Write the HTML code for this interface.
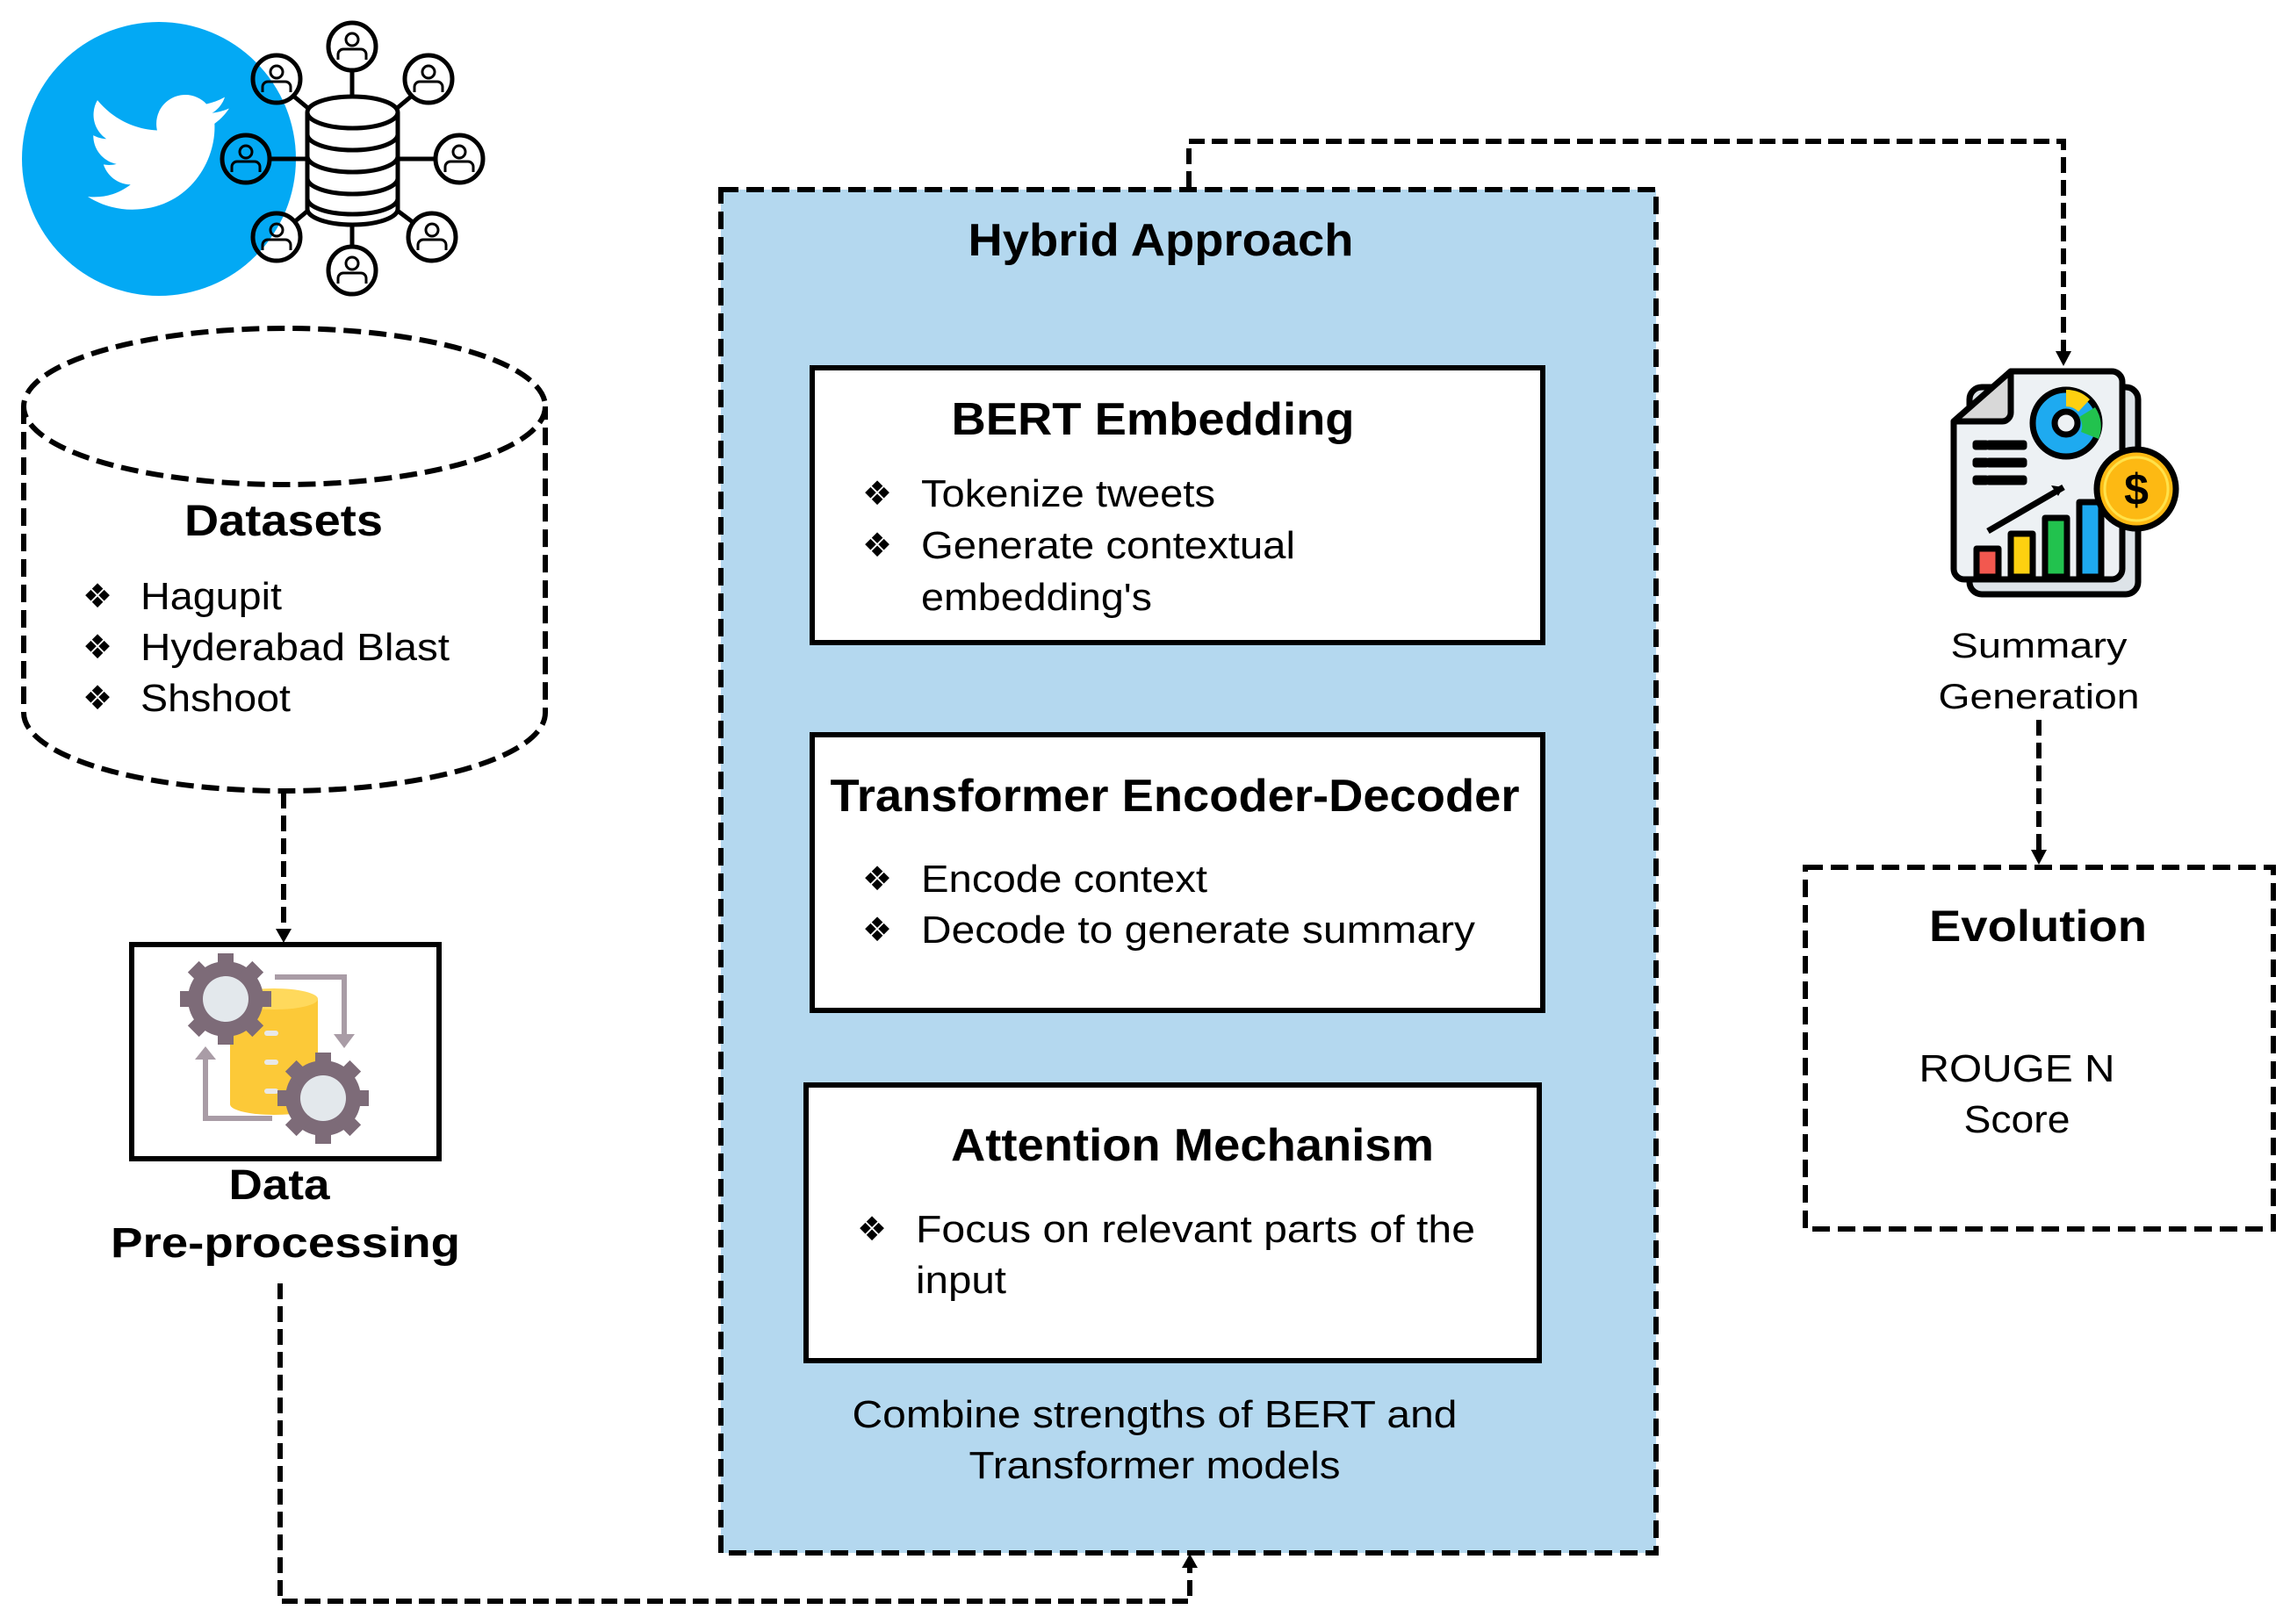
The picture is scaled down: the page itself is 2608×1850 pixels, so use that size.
<!DOCTYPE html>
<html><head><meta charset="utf-8"><style>
html,body{margin:0;padding:0;background:#fff}
svg{display:block}
text{font-family:"Liberation Sans",Arial,sans-serif;fill:#000}
.b{font-weight:bold}
.bl{font-family:"DejaVu Sans",sans-serif;font-size:38px}
</style></head><body>
<svg width="2608" height="1850" viewBox="0 0 2608 1850" xmlns="http://www.w3.org/2000/svg">

<!-- Twitter -->
<circle cx="181" cy="181" r="156" fill="#03a9f4"/>
<path transform="translate(100,93) scale(6.7)" fill="#fff" d="M23.954 4.569c-.885.389-1.83.654-2.825.775 1.014-.611 1.794-1.574 2.163-2.723-.951.555-2.005.959-3.127 1.184-.896-.959-2.173-1.559-3.591-1.559-2.717 0-4.92 2.203-4.92 4.917 0 .39.045.765.127 1.124C7.691 8.094 4.066 6.13 1.64 3.161c-.427.722-.666 1.561-.666 2.475 0 1.71.87 3.213 2.188 4.096-.807-.026-1.566-.248-2.228-.616v.061c0 2.385 1.693 4.374 3.946 4.827-.413.111-.849.171-1.296.171-.314 0-.615-.03-.916-.086.631 1.953 2.445 3.377 4.604 3.417-1.68 1.319-3.809 2.105-6.102 2.105-.39 0-.779-.023-1.17-.067 2.189 1.394 4.768 2.209 7.557 2.209 9.054 0 13.999-7.496 13.999-13.986 0-.209 0-.42-.015-.63.961-.689 1.8-1.560 2.460-2.548l-.047-.02z"/>

<!-- Network icon -->
<g stroke="#000" stroke-width="5" fill="none">
<line x1="401" y1="81" x2="401" y2="113"/><line x1="401" y1="253" x2="401" y2="283"/>
<line x1="308" y1="181" x2="350" y2="181"/><line x1="453" y1="181" x2="495" y2="181"/>
<line x1="335" y1="110" x2="353" y2="125"/><line x1="468" y1="110" x2="450" y2="125"/>
<line x1="335" y1="253" x2="353" y2="238"/><line x1="470" y1="253" x2="450" y2="238"/>
<path d="M350,128 v110 a51.5,18 0 0 0 103,0 v-110" fill="#fff"/>
<ellipse cx="401.5" cy="128" rx="51.5" ry="18" fill="#fff"/>
<path d="M350,153 a51.5,18 0 0 0 103,0 M350,178 a51.5,18 0 0 0 103,0 M350,203 a51.5,18 0 0 0 103,0 M350,226 a51.5,18 0 0 0 103,0"/>
</g>
<g stroke="#000" fill="none">
<g transform="translate(401,53)"><circle r="27" stroke-width="5"/><circle cy="-8" r="7" stroke-width="3"/><path d="M-16,15 v-6 a6,6 0 0 1 6,-6 h20 a6,6 0 0 1 6,6 v6" stroke-width="3"/></g>
<g transform="translate(315,90)"><circle r="27" stroke-width="5"/><circle cy="-8" r="7" stroke-width="3"/><path d="M-16,15 v-6 a6,6 0 0 1 6,-6 h20 a6,6 0 0 1 6,6 v6" stroke-width="3"/></g>
<g transform="translate(488,90)"><circle r="27" stroke-width="5"/><circle cy="-8" r="7" stroke-width="3"/><path d="M-16,15 v-6 a6,6 0 0 1 6,-6 h20 a6,6 0 0 1 6,6 v6" stroke-width="3"/></g>
<g transform="translate(280,181)"><circle r="27" stroke-width="5"/><circle cy="-8" r="7" stroke-width="3"/><path d="M-16,15 v-6 a6,6 0 0 1 6,-6 h20 a6,6 0 0 1 6,6 v6" stroke-width="3"/></g>
<g transform="translate(523,181)"><circle r="27" stroke-width="5"/><circle cy="-8" r="7" stroke-width="3"/><path d="M-16,15 v-6 a6,6 0 0 1 6,-6 h20 a6,6 0 0 1 6,6 v6" stroke-width="3"/></g>
<g transform="translate(315,270)"><circle r="27" stroke-width="5"/><circle cy="-8" r="7" stroke-width="3"/><path d="M-16,15 v-6 a6,6 0 0 1 6,-6 h20 a6,6 0 0 1 6,6 v6" stroke-width="3"/></g>
<g transform="translate(492,270)"><circle r="27" stroke-width="5"/><circle cy="-8" r="7" stroke-width="3"/><path d="M-16,15 v-6 a6,6 0 0 1 6,-6 h20 a6,6 0 0 1 6,6 v6" stroke-width="3"/></g>
<g transform="translate(401,308)"><circle r="27" stroke-width="5"/><circle cy="-8" r="7" stroke-width="3"/><path d="M-16,15 v-6 a6,6 0 0 1 6,-6 h20 a6,6 0 0 1 6,6 v6" stroke-width="3"/></g>
</g>

<!-- Datasets cylinder -->
<g stroke="#000" stroke-width="6" stroke-dasharray="20 9" fill="none">
<ellipse cx="324" cy="463" rx="297" ry="89"/>
<path d="M27,463 V812 A297,89 0 0 0 621,812 V463"/>
</g>
<text class="b" x="323" y="610" font-size="50" text-anchor="middle" textLength="226" lengthAdjust="spacingAndGlyphs">Datasets</text>
<text class="bl" x="94" y="692">❖</text><text x="160" y="694" font-size="44" textLength="161" lengthAdjust="spacingAndGlyphs">Hagupit</text>
<text class="bl" x="94" y="750">❖</text><text x="160" y="752" font-size="44" textLength="352" lengthAdjust="spacingAndGlyphs">Hyderabad Blast</text>
<text class="bl" x="94" y="808">❖</text><text x="160" y="810" font-size="44" textLength="171" lengthAdjust="spacingAndGlyphs">Shshoot</text>

<!-- connector datasets -> preprocessing -->
<path d="M323,903 V1062" stroke="#000" stroke-width="6" stroke-dasharray="18 8" fill="none"/>
<path d="M314,1058 L332,1058 L323,1074 Z" fill="#000"/>

<!-- preprocessing box -->
<rect x="150" y="1076" width="350" height="244" fill="#fff" stroke="#000" stroke-width="6"/>
<path d="M313,1113 H392 V1178" stroke="#a99ca6" stroke-width="6" fill="none"/>
<path d="M380,1178 L404,1178 L392,1194 Z" fill="#a99ca6"/>
<path d="M310,1274 H234 V1205" stroke="#a99ca6" stroke-width="6" fill="none"/>
<path d="M222,1207 L246,1207 L234,1192 Z" fill="#a99ca6"/>
<rect x="262" y="1138" width="100" height="120" fill="#fcc938"/>
<ellipse cx="312" cy="1258" rx="50" ry="12" fill="#fcc938"/>
<ellipse cx="312" cy="1138" rx="50" ry="12" fill="#ffd95c"/>
<rect x="301" y="1174" width="16" height="6" rx="3" fill="#e8e8e8"/><rect x="301" y="1207" width="16" height="6" rx="3" fill="#e8e8e8"/><rect x="301" y="1240" width="16" height="6" rx="3" fill="#e8e8e8"/>
<g fill="#7d6b78">
<circle cx="257" cy="1138" r="43"/>
<g transform="translate(257,1138)"><rect x="-9" y="-52" width="18" height="104"/><rect x="-52" y="-9" width="104" height="18"/><rect x="-9" y="-52" width="18" height="104" transform="rotate(45)"/><rect x="-9" y="-52" width="18" height="104" transform="rotate(-45)"/></g>
<circle cx="368" cy="1251" r="43"/>
<g transform="translate(368,1251)"><rect x="-9" y="-52" width="18" height="104"/><rect x="-52" y="-9" width="104" height="18"/><rect x="-9" y="-52" width="18" height="104" transform="rotate(45)"/><rect x="-9" y="-52" width="18" height="104" transform="rotate(-45)"/></g>
</g>
<circle cx="257" cy="1138" r="26" fill="#e3e8ec"/><circle cx="368" cy="1251" r="26" fill="#e3e8ec"/>
<text class="b" x="318" y="1366" font-size="48" text-anchor="middle" textLength="115" lengthAdjust="spacingAndGlyphs">Data</text>
<text class="b" x="325" y="1432" font-size="48" text-anchor="middle" textLength="398" lengthAdjust="spacingAndGlyphs">Pre-processing</text>

<!-- connector preprocessing -> hybrid -->
<path d="M319,1462 V1824 H1355 V1785" stroke="#000" stroke-width="6" stroke-dasharray="18 8" fill="none"/>
<path d="M1346,1786 L1364,1786 L1355,1770 Z" fill="#000"/>

<!-- hybrid -->
<rect x="821" y="216" width="1065" height="1553" fill="#b4d8ef" stroke="#000" stroke-width="6" stroke-dasharray="20 9"/>
<text class="b" x="1322" y="291" font-size="52" text-anchor="middle" textLength="439" lengthAdjust="spacingAndGlyphs">Hybrid Approach</text>

<rect x="925" y="419" width="832" height="313" fill="#fff" stroke="#000" stroke-width="6"/>
<text class="b" x="1313" y="495" font-size="52" text-anchor="middle" textLength="459" lengthAdjust="spacingAndGlyphs">BERT Embedding</text>
<text class="bl" x="982" y="575">❖</text><text x="1049" y="577" font-size="44" textLength="335" lengthAdjust="spacingAndGlyphs">Tokenize tweets</text>
<text class="bl" x="982" y="634">❖</text><text x="1049" y="636" font-size="44" textLength="426" lengthAdjust="spacingAndGlyphs">Generate contextual</text>
<text x="1049" y="695" font-size="44" textLength="263" lengthAdjust="spacingAndGlyphs">embedding's</text>

<rect x="925" y="837" width="832" height="314" fill="#fff" stroke="#000" stroke-width="6"/>
<text class="b" x="1338" y="924" font-size="52" text-anchor="middle" textLength="785" lengthAdjust="spacingAndGlyphs">Transformer Encoder-Decoder</text>
<text class="bl" x="982" y="1014">❖</text><text x="1049" y="1016" font-size="44" textLength="326" lengthAdjust="spacingAndGlyphs">Encode context</text>
<text class="bl" x="982" y="1072">❖</text><text x="1049" y="1074" font-size="44" textLength="631" lengthAdjust="spacingAndGlyphs">Decode to generate summary</text>

<rect x="918" y="1236" width="835" height="314" fill="#fff" stroke="#000" stroke-width="6"/>
<text class="b" x="1358" y="1322" font-size="52" text-anchor="middle" textLength="550" lengthAdjust="spacingAndGlyphs">Attention Mechanism</text>
<text class="bl" x="976" y="1413">❖</text><text x="1043" y="1415" font-size="44" textLength="637" lengthAdjust="spacingAndGlyphs">Focus on relevant parts of the</text>
<text x="1043" y="1473" font-size="44" textLength="103" lengthAdjust="spacingAndGlyphs">input</text>

<text x="1315" y="1626" font-size="44" text-anchor="middle" textLength="689" lengthAdjust="spacingAndGlyphs">Combine strengths of BERT and</text>
<text x="1315" y="1684" font-size="44" text-anchor="middle" textLength="423" lengthAdjust="spacingAndGlyphs">Transformer models</text>

<!-- connector hybrid -> summary -->
<path d="M1354,213 V161 H2350 V400" stroke="#000" stroke-width="6" stroke-dasharray="18 8" fill="none"/>
<path d="M2341,400 L2359,400 L2350,417 Z" fill="#000"/>

<!-- summary icon -->
<g stroke="#000" stroke-width="7" stroke-linejoin="round">
<rect x="2243" y="441" width="192" height="236" rx="14" fill="#dde3e8"/>
<path d="M2290,423 H2405 a12,12 0 0 1 12,12 V648 a12,12 0 0 1 -12,12 H2237 a12,12 0 0 1 -12,-12 V480 Z" fill="#edf1f4"/>
<path d="M2225,480 L2290,423 V470 a10,10 0 0 1 -10,10 Z" fill="#d8d8d8"/>
<circle cx="2353" cy="482" r="38" fill="#1eaaf0"/>
<circle cx="2353" cy="482" r="13" fill="#edf1f4"/>
<rect x="2250" y="505" width="12" height="4"/><rect x="2265" y="505" width="40" height="4"/>
<rect x="2250" y="525" width="12" height="4"/><rect x="2265" y="525" width="40" height="4"/>
<rect x="2250" y="545" width="12" height="4"/><rect x="2265" y="545" width="40" height="4"/>
<line x1="2264" y1="605" x2="2350" y2="555" fill="none"/>
<rect x="2251" y="625" width="25" height="32" fill="#f2584f"/>
<rect x="2290" y="608" width="25" height="49" fill="#fdd010"/>
<rect x="2329" y="590" width="25" height="67" fill="#22c24e"/>
<rect x="2368" y="572" width="25" height="85" fill="#1eaaf0"/>
<circle cx="2433" cy="557" r="45" fill="#fdb913"/>
</g>
<path d="M2353,444 A38,38 0 0 1 2380,455 L2367,469 A19,19 0 0 0 2353,463 Z" fill="#fdd010"/>
<path d="M2386,464 A38,38 0 0 1 2390,500 L2370,492 A19,19 0 0 0 2368,475 Z" fill="#22c24e"/>
<path d="M2350,555 l-14,-2 l8,12 z" fill="#000"/>
<circle cx="2433" cy="557" r="36" fill="none" stroke="#ffe24a" stroke-width="3"/>
<text x="2433" y="575" font-size="50" font-weight="bold" text-anchor="middle">$</text>

<text x="2322" y="749" font-size="40" text-anchor="middle" textLength="201" lengthAdjust="spacingAndGlyphs">Summary</text>
<text x="2322" y="807" font-size="40" text-anchor="middle" textLength="229" lengthAdjust="spacingAndGlyphs">Generation</text>

<!-- summary -> evolution -->
<path d="M2322,820 V968" stroke="#000" stroke-width="6" stroke-dasharray="18 8" fill="none"/>
<path d="M2313,968 L2331,968 L2322,985 Z" fill="#000"/>

<rect x="2056" y="988" width="533" height="412" fill="none" stroke="#000" stroke-width="6" stroke-dasharray="20 9"/>
<text class="b" x="2321" y="1072" font-size="50" text-anchor="middle" textLength="248" lengthAdjust="spacingAndGlyphs">Evolution</text>
<text x="2297" y="1232" font-size="44" text-anchor="middle" textLength="223" lengthAdjust="spacingAndGlyphs">ROUGE N</text>
<text x="2297" y="1290" font-size="44" text-anchor="middle" textLength="121" lengthAdjust="spacingAndGlyphs">Score</text>
</svg>
</body></html>
